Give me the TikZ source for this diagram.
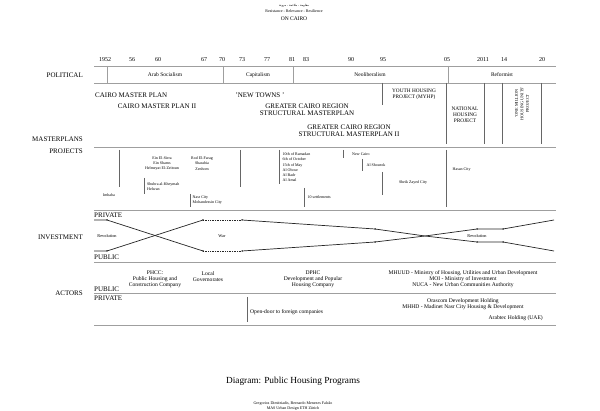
\documentclass[tikz,border=0pt]{standalone}
\usepackage{fontspec}
\setmainfont{Liberation Serif}
\newfontfamily\arabicfont[Script=Arabic]{DejaVu Sans}
\TeXXeTstate=1
\newcommand{\fs}[2]{\fontsize{#1}{#2}\selectfont}
\tikzset{
  rowlabel/.style={anchor=east,inner sep=0pt,font=\fs{7}{8}},
  sidelabel/.style={anchor=west,inner sep=0pt,font=\fs{7}{8}},
  year/.style={inner sep=0pt,font=\fs{6}{7}},
  era/.style={inner sep=0pt,font=\fs{5.5}{6.5}},
  plan/.style={inner sep=0pt,align=center,font=\fs{7}{7.2}},
  smallplan/.style={inner sep=0pt,align=center,font=\fs{5.3}{5.9}},
  place/.style={inner sep=0pt,align=left,anchor=west,font=\fs{4}{5.2}},
  actor/.style={inner sep=0pt,align=center,font=\fs{5.6}{6}},
  note/.style={inner sep=0pt,font=\fs{4.3}{5}},
  rule/.style={draw=gray!75,line width=0.9pt},
  sep/.style={draw=black!60,line width=0.6pt},
  flow/.style={draw=black!85,line width=0.7pt},
  knot/.style={circle,fill=black,inner sep=0pt,minimum size=1.5pt},
}

\begin{document}
\begin{tikzpicture}[x=1pt,y=-1pt]
\useasboundingbox[fill=white] (0,0) rectangle (600,411);
% heading
\node[inner sep=0pt,font=\fs{3}{4}] (arab) at (294,6) {\arabicfont\beginR مقاومة - ملاءمة - مرونة\endR};
\node[inner sep=0pt,font=\fs{4}{5}] (motto) at (294,11.5) {Resistance - Relevance - Resilience};
\node[inner sep=0pt,font=\fs{5.5}{6}] (cairo) at (294,19) {ON CAIRO};
% years
\foreach \x/\t in {105/1952,132/56,158/60,204/67,222/70,242/73,267/77,292/81,306/83,351/90,383/95,447/05,483/2011,504/14,542/20}
  \node[year] (y\t) at (\x,60) {\t};
% row labels
\node[rowlabel] (political) at (83,75) {POLITICAL};
\node[rowlabel] (masterplans) at (83,139) {MASTERPLANS};
\node[rowlabel] (projects) at (83,151) {PROJECTS};
\node[rowlabel] (investment) at (83,237) {INVESTMENT};
\node[rowlabel] (actors) at (83,293.5) {ACTORS};
% row rules
\foreach \y in {66,83,147,210,262,293,325}
  \draw[rule] (94,\y) -- (556,\y);
% political
\draw[rule] (107,66) -- (107,83) (223,66) -- (223,83) (293,66) -- (293,83) (448,66) -- (448,83);
\node[era] (arabsoc) at (165,75) {Arab Socialism};
\node[era] (capital) at (258,75) {Capitalism};
\node[era] (neolib) at (370,75) {Neoliberalism};
\node[era] (reform) at (502,75) {Reformist};
% masterplans
\node[plan,anchor=west] (cmp) at (95,95) {CAIRO MASTER PLAN};
\node[plan] (cmp2) at (157,106) {CAIRO MASTER PLAN II};
\node[plan] (towns) at (260,95) {'NEW TOWNS '};
\node[plan] (gcr) at (307,110) {GREATER CAIRO REGION\\STRUCTURAL MASTERPLAN};
\node[plan] (gcr2) at (349,131) {GREATER CAIRO REGION\\STRUCTURAL MASTERPLAN II};
\draw[sep] (382,83) -- (382,105) (446,83) -- (446,144) (484,83) -- (484,144)
  (502,83) -- (502,144) (541,83) -- (541,144);
\node[smallplan] (myhp) at (414,94.5) {YOUTH HOUSING\\PROJECT (MYHP)};
\node[smallplan] (nhp) at (465,115) {NATIONAL\\HOUSING\\PROJECT};
\node[inner sep=0pt,align=center,font=\fs{4.2}{5.6},rotate=90] (million) at (522,103.5) {'ONE MILLION\\HOUSING UNITS'\\PROJECT};
% projects
\draw[sep] (119,150) -- (119,187) (240,150) -- (240,187) (144,178) -- (144,194)
  (190,194) -- (190,207) (279,150) -- (279,184) (343,150) -- (343,158)
  (362,159) -- (362,171) (382,172) -- (382,195) (304,188) -- (304,207)
  (446,150) -- (446,207);
\node[place,align=center,anchor=center] (ein) at (162,163.3) {Ein El-Sirra\\Ein Shams\\Helmeyat El-Zeitoun};
\node[place,align=center,anchor=center] (rod) at (202,163.5) {Rod El-Farag\\Sharabia\\Zenhom};
\node[place] (shubra) at (147,186.3) {Shubra al-Kheymah\\Helwan};
\node[place,anchor=center] (imbaba) at (109,195) {Imbaba};
\node[place] (nasr) at (192.5,200.5) {Nasr City\\Mohandessin City};
\node[place] (towns1) at (282.5,167.3) {10th of Ramadan\\6th of October\\15th of May\\Al Obour\\Al Badr\\Al Amal};
\node[place] (newcairo) at (352,154) {New Cairo};
\node[place] (shourok) at (366.5,165.5) {Al Shourok};
\node[place,anchor=center] (zayed) at (413,182.3) {Sheik Zayed City};
\node[place] (settle) at (307.5,197.3) {10 settlements};
\node[place] (hasan) at (452.5,169.3) {Hasan City};
% investment
\node[sidelabel] (priv1) at (94,215) {PRIVATE};
\node[sidelabel] (pub1) at (94,257) {PUBLIC};
\draw[flow] (94,220) -- (107,220) -- (203,251);
\draw[flow,densely dotted] (203,251) -- (242,251);
\draw[flow] (242,251) -- (375,242) -- (425,236) -- (477,229) -- (503,229) -- (554,220);
\draw[flow] (94,251) -- (107,251) -- (203,220);
\draw[flow,densely dotted] (203,220) -- (242,220);
\draw[flow] (242,220) -- (375,229) -- (425,236) -- (477,242) -- (503,242) -- (554,251);
\foreach \x in {107,203,242}
  \node[knot] at (\x,220) {} node[knot] at (\x,251) {};
\foreach \x in {375,477,503} {
  \node[knot] at (\x,229) {};
  \node[knot] at (\x,242) {};
}
\node[note] (rev1) at (107,236.5) {Revolution};
\node[note] (war) at (222,236.5) {War};
\node[note] (rev2) at (477,236.5) {Revolution};
% actors
\node[sidelabel] (pub2) at (94,289) {PUBLIC};
\node[sidelabel] (priv2) at (94,298.5) {PRIVATE};
\node[actor] (phcc) at (155,279) {PHCC:\\Public Housing and\\Construction Company};
\node[actor] (local) at (208,276.5) {Local\\Governorates};
\node[actor] (dphc) at (313,279) {DPHC\\Development and Popular\\Housing Company};
\node[actor] (mhuud) at (463,279.5) {MHUUD - Ministry of Housing, Utilities and Urban Development\\MOI - Ministry of Investment\\NUCA - New Urban Communities Authority};
\draw[sep] (247,297) -- (247,322);
\node[actor,anchor=west] (opendoor) at (250,311.7) {Open-door to foreign companies};
\node[actor] (orascom) at (463,304.5) {Orascom Development Holding\\MHHD - Madinet Nasr City Housing \& Development};
\node[actor,anchor=east] (arabtec) at (543,318) {Arabtec Holding (UAE)};
% title
\node[inner sep=0pt,font=\fs{9.3}{10}] (title) at (293,381) {Diagram: Public Housing Programs};
\node[inner sep=0pt,align=center,font=\fs{4}{5}] (credits) at (293,405.8) {Gregorios Dimitriadis, Bernardo Menezes Falcão\\MAS Urban Design ETH Zürich};
\end{tikzpicture}
\end{document}
